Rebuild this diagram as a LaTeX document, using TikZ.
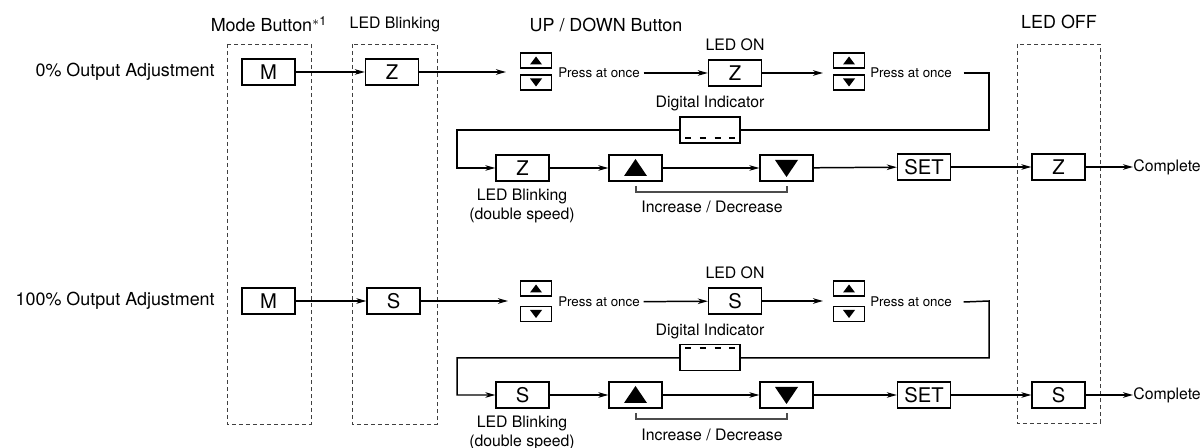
\documentclass[tikz,border=0pt]{standalone}
\usepackage{fontspec}
\setmainfont{TeX Gyre Heros}
\usetikzlibrary{arrows.meta}
\begin{document}
\begin{tikzpicture}[x=0.02cm,y=-0.02cm,
  keybox/.style={draw,line width=0.75pt,minimum width=1.06cm,minimum height=0.52cm,inner sep=0pt,font=\fontsize{11.5}{13}\selectfont},
  btnbox/.style={draw,line width=0.7pt,minimum width=0.62cm,minimum height=0.3cm,inner sep=0pt},
  dispbox/.style={draw,fill=white,line width=0.75pt,minimum width=1.2cm,minimum height=0.52cm,inner sep=0pt},
  colbox/.style={draw=black!75,line width=0.55pt,dash pattern=on 0.08cm off 0.06cm},
  arr/.style={line width=0.85pt,-{Stealth[length=0.2cm,width=0.11cm,inset=0.06cm]}},
  brace/.style={draw=black!70,line width=0.65pt},
  dashes/.style={line width=1.1pt,dash pattern=on 0.12cm off 0.175cm},
  bigtxt/.style={font=\fontsize{10.2}{12}\selectfont,inner sep=0pt},
  smalltxt/.style={font=\fontsize{9}{10.8}\selectfont,inner sep=0pt,align=center},
  presstxt/.style={font=\fontsize{7.6}{9}\selectfont,inner sep=2pt}]
\useasboundingbox (0,0) rectangle (1203,448);
\draw[colbox] (227,44) rectangle (311,424);
\draw[colbox] (352,44) rectangle (437,424);
\draw[colbox] (1017,44) rectangle (1100,423);
\node[bigtxt] (hmode) at (269,24) {Mode Button\textsuperscript{$\ast$1}};
\node[smalltxt] (hblink) at (395,24) {LED Blinking};
\node[bigtxt] (hud) at (606,25) {UP / DOWN Button};
\node[bigtxt] (hoff) at (1059,22) {LED OFF};
\node[bigtxt,anchor=east] (zero) at (215,72) {0\% Output Adjustment};
\node[keybox] (m1) at (268.5,72) {M};
\node[keybox] (z1) at (392,72) {Z};
\coordinate (in1) at (506,72);
\node[btnbox] (up1) at (536,60.5) {};
\node[btnbox] (dn1) at (536,82.5) {};
\fill (530,64.5) -- (542,64.5) -- (536,56.5) -- cycle;
\fill (530,78.5) -- (542,78.5) -- (536,86.5) -- cycle;
\node[presstxt] (pa1) at (599,73) {Press at once};
\node[keybox] (on1) at (735,73) {Z};
\node[smalltxt,above=0.16cm] (lon1) at (on1.north) {LED ON};
\coordinate (in2) at (823,73);
\node[btnbox] (up2) at (849,60.5) {};
\node[btnbox] (dn2) at (849,82.5) {};
\fill (843,64.5) -- (855,64.5) -- (849,56.5) -- cycle;
\fill (843,78.5) -- (855,78.5) -- (849,86.5) -- cycle;
\node[presstxt] (pa2) at (911,73) {Press at once};
\draw[arr] (m1) -- (z1);
\draw[arr] (z1) -- (in1);
\draw[arr] (pa1) -- (on1);
\draw[arr] (on1) -- (in2);
\node[keybox] (z2) at (522.5,168) {Z};
\draw[arr] ([xshift=0.16cm]pa2.east) -- (989,73) |- (457,130) |- (z2.west);
\node[dispbox] (disp1) at (710,130) {};
\draw[dashes] (685,138) -- (737,138);
\node[smalltxt,above=0.1cm] (ldisp1) at (disp1.north) {Digital Indicator};
\node[keybox] (inc1) at (635.5,168) {};
\fill (624,176) -- (647,176) -- (635.5,159) -- cycle;
\node[keybox] (dec1) at (786.5,168) {};
\fill (775,160) -- (798,160) -- (786.5,177) -- cycle;
\node[keybox] (set1) at (924,167) {SET};
\node[keybox] (off1) at (1058.5,167) {Z};
\node[smalltxt,anchor=west] (done1) at (1133,167) {Complete};
\node[smalltxt] (lz2) at (522,206) {LED Blinking\\(double speed)};
\draw[brace] (636,186) -- (636,192) -- (787,192) -- (787,186);
\node[smalltxt] (lid1) at (712,207) {Increase / Decrease};
\draw[arr] (z2) -- (inc1);
\draw[arr] (inc1) -- (dec1);
\draw[arr] (dec1) -- (set1);
\draw[arr] (set1) -- (off1);
\draw[arr] (off1) -- (done1);
\node[bigtxt,anchor=east] (full) at (215,301) {100\% Output Adjustment};
\node[keybox] (m2) at (268.5,301) {M};
\node[keybox] (s1) at (393.5,301) {S};
\coordinate (in3) at (508,301);
\node[btnbox] (up3) at (536,288.5) {};
\node[btnbox] (dn3) at (536,314) {};
\fill (530,292.5) -- (542,292.5) -- (536,284.5) -- cycle;
\fill (530,310) -- (542,310) -- (536,318) -- cycle;
\node[presstxt] (pa3) at (599,302) {Press at once};
\node[keybox] (on2) at (735,301) {S};
\node[smalltxt,above=0.16cm] (lon2) at (on2.north) {LED ON};
\coordinate (in4) at (823,301);
\node[btnbox] (up4) at (849,288.5) {};
\node[btnbox] (dn4) at (849,314) {};
\fill (843,292.5) -- (855,292.5) -- (849,284.5) -- cycle;
\fill (843,310) -- (855,310) -- (849,318) -- cycle;
\node[presstxt] (pa4) at (911,302) {Press at once};
\draw[arr] (m2) -- (s1);
\draw[arr] (s1) -- (in3);
\draw[arr] (pa3) -- (on2);
\draw[arr] (on2) -- (in4);
\node[keybox] (s2) at (522.5,395) {S};
\draw[arr] ([xshift=0.16cm]pa4.east) -- (989,301) |- (457,358) |- (s2.west);
\node[dispbox] (disp2) at (710,357.5) {};
\draw[dashes] (685,348) -- (737,348);
\node[smalltxt,above=0.1cm] (ldisp2) at (disp2.north) {Digital Indicator};
\node[keybox] (inc2) at (635.5,395) {};
\fill (624,403) -- (647,403) -- (635.5,386) -- cycle;
\node[keybox] (dec2) at (786.5,395) {};
\fill (775,387) -- (798,387) -- (786.5,404) -- cycle;
\node[keybox] (set2) at (924,395) {SET};
\node[keybox] (off2) at (1058.5,395) {S};
\node[smalltxt,anchor=west] (done2) at (1133,395) {Complete};
\node[smalltxt] (ls2) at (522,433) {LED Blinking\\(double speed)};
\draw[brace] (636,413) -- (636,419) -- (787,419) -- (787,413);
\node[smalltxt] (lid2) at (712,435) {Increase / Decrease};
\draw[arr] (s2) -- (inc2);
\draw[arr] (inc2) -- (dec2);
\draw[arr] (dec2) -- (set2);
\draw[arr] (set2) -- (off2);
\draw[arr] (off2) -- (done2);
\end{tikzpicture}
\end{document}
